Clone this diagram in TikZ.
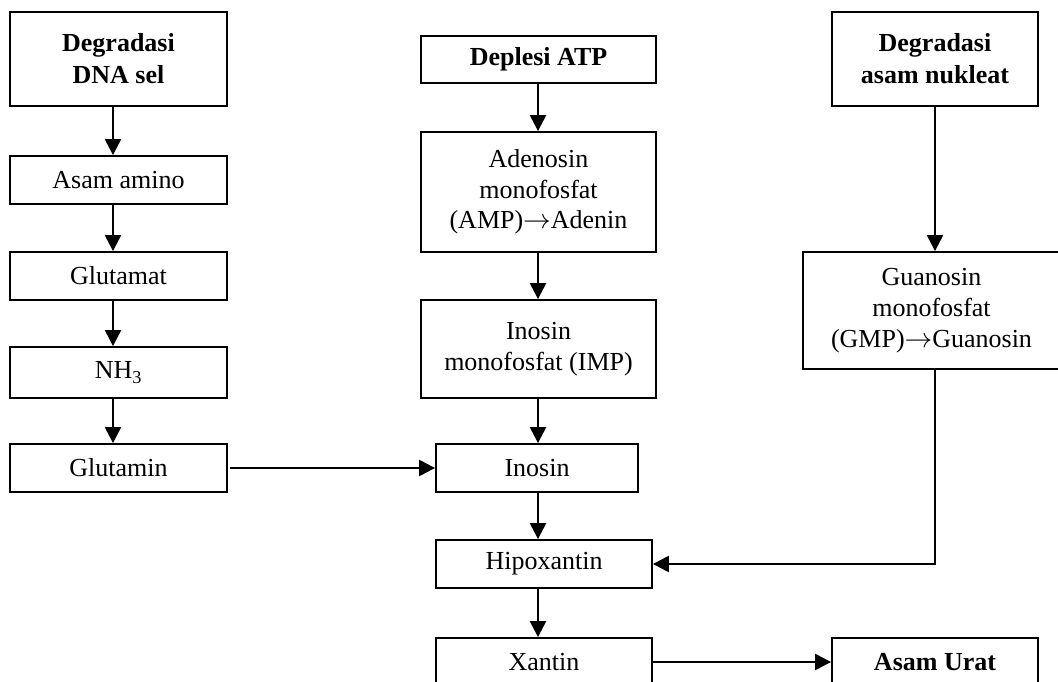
\documentclass[tikz,border=0pt]{standalone}
\usepackage{fontspec}
\setmainfont{Liberation Serif}
\usetikzlibrary{arrows.meta,fit}
\newcommand{\rarr}{\ensuremath{\rightarrow}}
\begin{document}
\begin{tikzpicture}[x=0.75pt,y=-0.75pt,
  box/.style={draw=black,line width=1.4pt,inner sep=0pt},
  txt/.style={inner sep=0pt,align=center,font=\fontsize{19.5}{23}\selectfont},
  btxt/.style={txt,font=\fontsize{19.5}{24}\selectfont\bfseries},
  arr/.style={line width=1.8pt,-{Triangle[width=12pt,length=12pt]}}]
\useasboundingbox (0,0) rectangle (1058,682);
% boxes
\node[box,fit={(10,12) (227,106)}] (dna) {};
\node[box,fit={(10,156) (227,204)}] (amino) {};
\node[box,fit={(10,252) (227,300)}] (glutamat) {};
\node[box,fit={(10,347) (227,398)}] (nh3) {};
\node[box,fit={(10,444) (227,492)}] (glutamin) {};
\node[box,fit={(421,36) (656,83)}] (atp) {};
\node[box,fit={(421,132) (656,252)}] (amp) {};
\node[box,fit={(421,300) (656,398)}] (imp) {};
\node[box,fit={(436,444) (638,492)}] (inosin) {};
\node[box,fit={(436,540) (652,588)}] (hipo) {};
\node[box,fit={(436,638) (652,686)}] (xantin) {};
\node[box,fit={(832,12) (1038,106)}] (nukleat) {};
\node[box,fit={(803,252) (1064,369)}] (gmp) {};
\node[box,fit={(832,638) (1038,686)}] (urat) {};
% texts
\node[btxt] (dna-t) at (dna.center) {Degradasi\\DNA sel};
\node[txt] (amino-t) at (amino.center) {Asam amino};
\node[txt] (glutamat-t) at (glutamat.center) {Glutamat};
\node[txt] (nh3-t) at (nh3.center) {NH\textsubscript{3}};
\node[txt] (glutamin-t) at (glutamin.center) {Glutamin};
\node[btxt] (atp-t) at (atp.center) {Deplesi ATP};
\node[txt] (amp-t) at (amp.center) {Adenosin\\monofosfat\\(AMP)\rarr Adenin};
\node[txt] (imp-t) at (imp.center) {Inosin\\monofosfat (IMP)};
\node[txt] (inosin-t) at (inosin.center) {Inosin};
\node[txt] (hipo-t) at (hipo.center) {Hipoxantin};
\node[txt] (xantin-t) at (xantin.center) {Xantin};
\node[btxt] (nukleat-t) at (nukleat.center) {Degradasi\\asam nukleat};
\node[txt] (gmp-t) at ([xshift=-1.5]gmp.center) {Guanosin\\monofosfat\\(GMP)\rarr Guanosin};
\node[btxt] (urat-t) at (urat.center) {Asam Urat};
% connectors
\draw[arr] (dna.south -| 113,0) -- (amino.north -| 113,0);
\draw[arr] (amino.south -| 113,0) -- (glutamat.north -| 113,0);
\draw[arr] (glutamat.south -| 113,0) -- (nh3.north -| 113,0);
\draw[arr] (nh3.south -| 113,0) -- (glutamin.north -| 113,0);
\draw[arr] ([xshift=1.5pt]glutamin.east) -- (inosin.west);
\draw[arr] (atp.south -| 538,0) -- (amp.north -| 538,0);
\draw[arr] (amp.south -| 538,0) -- (imp.north -| 538,0);
\draw[arr] (imp.south -| 538,0) -- (inosin.north -| 538,0);
\draw[arr] (inosin.south -| 538,0) -- (hipo.north -| 538,0);
\draw[arr] (hipo.south -| 538,0) -- (xantin.north -| 538,0);
\draw[arr] (nukleat.south -| 935,0) -- (gmp.north -| 935,0);
\draw[arr] (gmp.south -| 935,0) |- (hipo.east);
\draw[arr] (xantin.east) -- (urat.west);
\end{tikzpicture}
\end{document}
